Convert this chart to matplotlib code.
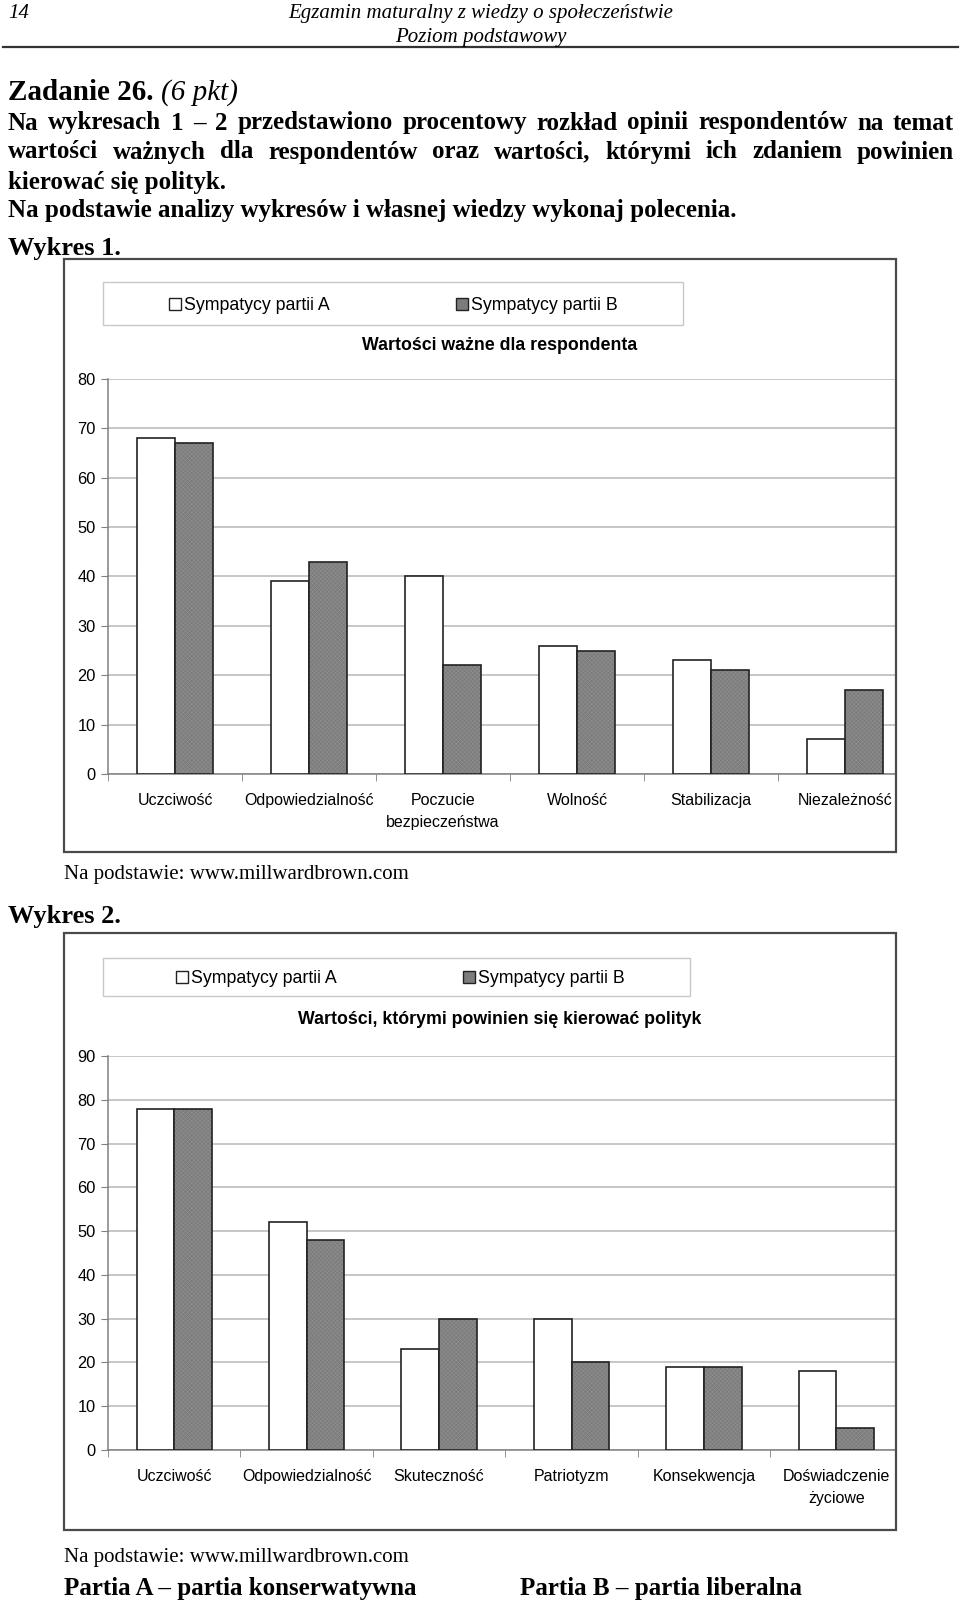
import matplotlib
matplotlib.use('Agg')
import numpy as np
import matplotlib.pyplot as plt
from matplotlib.patches import Rectangle, Patch
from matplotlib.lines import Line2D

W, H = 960, 1603

# Wykres 1 - wartosci wazne dla respondenta
kat1 = ['Uczciwość', 'Odpowiedzialność', 'Poczucie\nbezpieczeństwa',
        'Wolność', 'Stabilizacja', 'Niezależność']
partiaA_1 = [68, 39, 40, 26, 23, 7]
partiaB_1 = [67, 43, 22, 25, 21, 17]
yticks1 = list(range(0, 81, 10))

# Wykres 2 - wartosci, ktorymi powinien sie kierowac polityk
kat2 = ['Uczciwość', 'Odpowiedzialność', 'Skuteczność', 'Patriotyzm',
        'Konsekwencja', 'Doświadczenie\nżyciowe']
partiaA_2 = [78, 52, 23, 30, 19, 18]
partiaB_2 = [78, 48, 30, 20, 19, 5]
yticks2 = list(range(0, 91, 10))

serie = ['Sympatycy partii A', 'Sympatycy partii B']

SERIF = 'Liberation Serif'
plt.rcParams['font.family'] = 'Liberation Sans'
plt.rcParams['hatch.linewidth'] = 0.4

fig = plt.figure(figsize=(W / 100, H / 100), dpi=100)
r = fig.canvas.get_renderer()


def px(x, y):
    return x / W, 1 - y / H


def tekst(x, y, s, fontsize=18, **kw):
    # y = srodek wiersza, tekst ustawiany na linii bazowej
    yb = y + 0.34 * fontsize * 100 / 72
    return fig.text(*px(x, yb), s, family=SERIF, fontsize=fontsize,
                    va='baseline', **kw)


def wyjustuj(y, s, x0, x1, **kw):
    # tekst wyrownany do obu marginesow
    slowa = s.split()
    obj = [tekst(x0, y, w, **kw) for w in slowa]
    szer = [o.get_window_extent(r).width for o in obj]
    odst = (x1 - x0 - sum(szer)) / (len(slowa) - 1)
    x = x0
    for o, w in zip(obj, szer):
        o.set_x(x / W)
        x += w + odst


def ramka(x0, y0, x1, y1, **kw):
    fig.add_artist(Rectangle(px(x0, y1), (x1 - x0) / W, (y1 - y0) / H,
                             transform=fig.transFigure, fill=False, **kw))


def wykres(top, zero, ymax, box, lbox, lcx, tytul, ty, kat, a, b, yt, xmax):
    ramka(*box, edgecolor='#4a4a4a', lw=1.6)
    ramka(*lbox, edgecolor='#c8c8c8', lw=1.0)

    ax = fig.add_axes([108 / W, 1 - zero / H, 788 / W, (zero - top) / H])
    x = np.arange(len(kat))
    w = 0.284
    ax.bar(x - w / 2, a, w, color='white', edgecolor='#222222', lw=1.2, zorder=3)
    ax.bar(x + w / 2, b, w, color='#7c7c7c', edgecolor='#8f8f8f',
           hatch='xxxxxxxx', lw=0, zorder=3)
    ax.bar(x + w / 2, b, w, fill=False, edgecolor='#222222', lw=1.2, zorder=4)

    ax.set_xlim(-0.5, xmax)
    ax.set_ylim(0, ymax)
    ax.set_yticks(yt)
    ax.set_xticks(x)
    ax.set_xticklabels(kat, fontsize=11.5, linespacing=1.6)
    ax.set_xticks(x - 0.5, minor=True)
    ax.tick_params(axis='x', which='major', length=0, pad=13.5)
    ax.tick_params(axis='x', which='minor', length=5, color='#808080')
    ax.tick_params(axis='y', length=5, color='#808080', pad=4, labelsize=11.8)
    ax.yaxis.grid(True, color='#b8b8b8', lw=1.1)
    ax.set_axisbelow(True)
    for s in ['top', 'right']:
        ax.spines[s].set_visible(False)
    for s in ['left', 'bottom']:
        ax.spines[s].set_color('#808080')
        ax.spines[s].set_linewidth(1.1)

    uchwyty = [Patch(facecolor='white', edgecolor='#222222', label=serie[0]),
               Patch(facecolor='#7c7c7c', edgecolor='#222222', label=serie[1])]
    lcy = (lbox[1] + lbox[3]) / 2 + 2
    fig.legend(handles=uchwyty, loc='center', bbox_to_anchor=px(lcx, lcy),
               ncol=2, frameon=False, fontsize=12.8, handlelength=0.67,
               handleheight=0.67, handletextpad=0.17, columnspacing=7.1,
               borderpad=0)
    fig.text(*px(500, ty), tytul, ha='center', va='center', fontsize=12.8,
             weight='bold')


# naglowek strony
tekst(8, 11, '14', style='italic', fontsize=15)
tekst(481, 11, 'Egzamin maturalny z wiedzy o społeczeństwie', style='italic',
      fontsize=15, ha='center')
tekst(481, 35, 'Poziom podstawowy', style='italic', fontsize=15, ha='center')
fig.add_artist(Line2D([3 / W, 958 / W], [1 - 47 / H] * 2, lw=1.6, color='#333333',
                      transform=fig.transFigure))

z = tekst(8, 90, 'Zadanie 26. ', weight='bold', fontsize=21)
zw = z.get_window_extent(r).width
tekst(8 + zw, 90, '(6 pkt)', style='italic', fontsize=21)

wyjustuj(121, 'Na wykresach 1 – 2 przedstawiono procentowy rozkład opinii '
         'respondentów na temat', 8, 954, weight='bold')
wyjustuj(150, 'wartości ważnych dla respondentów oraz wartości, którymi ich '
         'zdaniem powinien', 8, 954, weight='bold')
tekst(8, 180, 'kierować się polityk.', weight='bold')
tekst(8, 209, 'Na podstawie analizy wykresów i własnej wiedzy wykonaj polecenia.',
      weight='bold')

tekst(8, 246, 'Wykres 1.', weight='bold', fontsize=19)
wykres(379, 774, 80, (64, 259, 896, 852), (103, 282, 683, 325), 393,
       'Wartości ważne dla respondenta', 345,
       kat1, partiaA_1, partiaB_1, yticks1, 5.38)
tekst(64, 872, 'Na podstawie: www.millwardbrown.com', fontsize=15)

tekst(8, 914, 'Wykres 2.', weight='bold', fontsize=19)
wykres(1056, 1450, 90, (64, 933, 896, 1530), (103, 958, 690, 996), 400,
       'Wartości, którymi powinien się kierować polityk', 1019,
       kat2, partiaA_2, partiaB_2, yticks2, 5.45)
tekst(64, 1555, 'Na podstawie: www.millwardbrown.com', fontsize=15)

tekst(64, 1587, 'Partia A – partia konserwatywna', weight='bold')
tekst(520, 1587, 'Partia B – partia liberalna', weight='bold')

fig.savefig('out.png', dpi=100)
